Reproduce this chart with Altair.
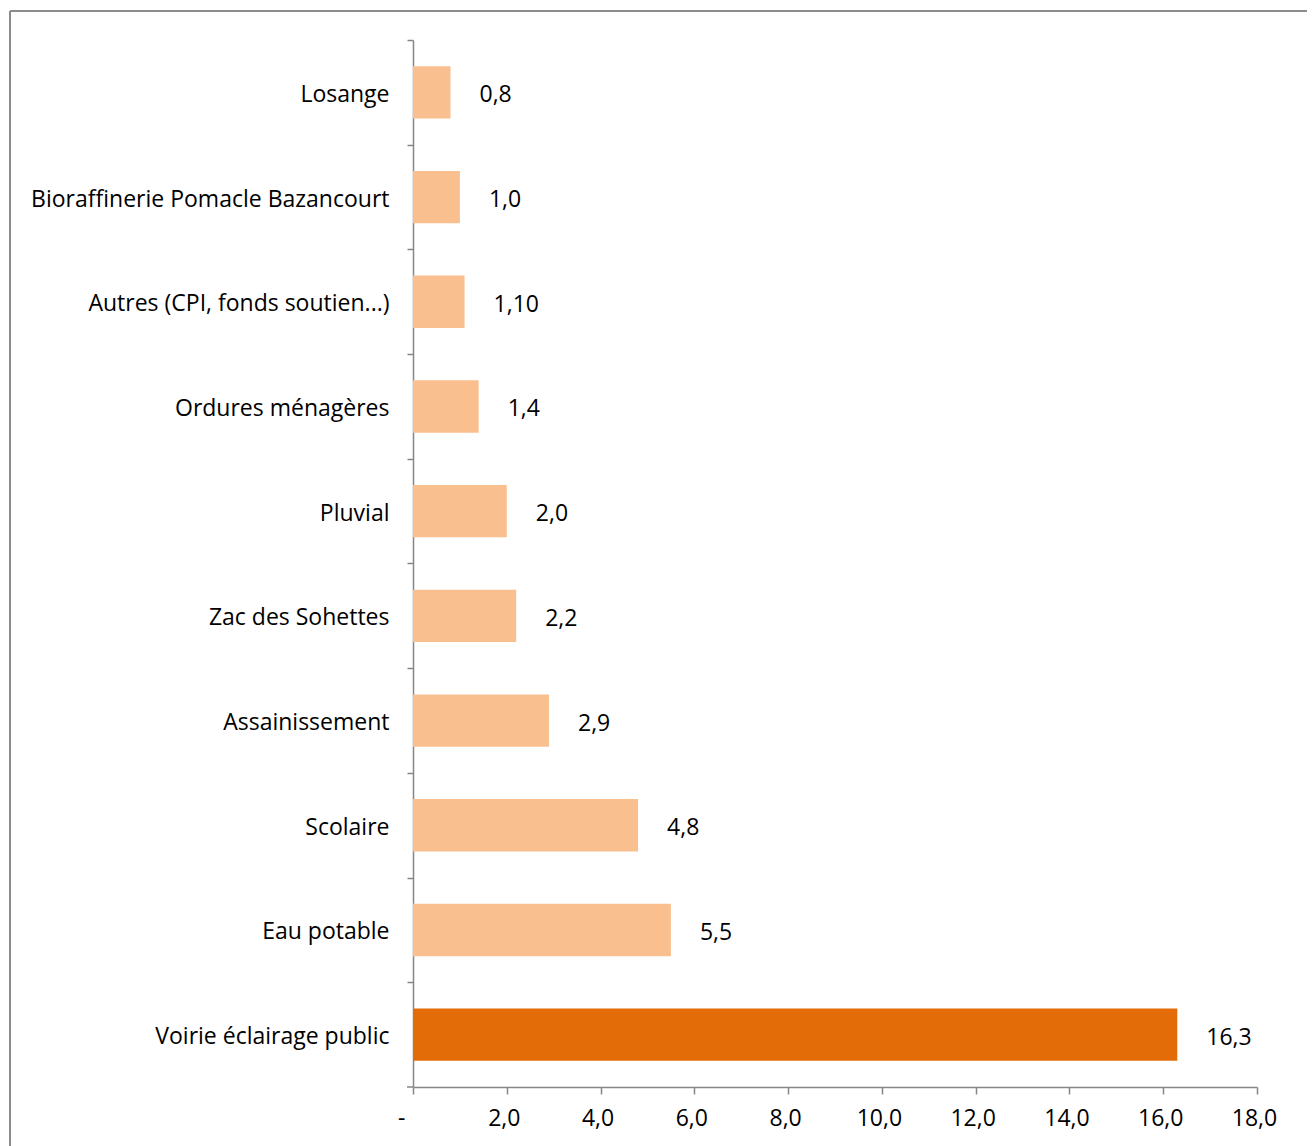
import altair as alt
import pandas as pd

categories = ["Losange", "Bioraffinerie Pomacle Bazancourt", "Autres (CPI, fonds soutien...)",
              "Ordures ménagères", "Pluvial", "Zac des Sohettes", "Assainissement",
              "Scolaire", "Eau potable", "Voirie éclairage public"]
values = [0.8, 1.0, 1.1, 1.4, 2.0, 2.2, 2.9, 4.8, 5.5, 16.3]
labels = ["0,8", "1,0", "1,10", "1,4", "2,0", "2,2", "2,9", "4,8", "5,5", "16,3"]
highlight = [False] * 9 + [True]
x_ticks = [0, 2, 4, 6, 8, 10, 12, 14, 16, 18]

df = pd.DataFrame({"cat": categories, "val": values, "lab": labels, "hi": highlight})

FONT = "Open Sans"
FS = 23
AXIS_COLOR = "#868686"
H = 1047
STEP = H / 10.0

y_enc = alt.Y("cat:N", sort=categories,
              scale=alt.Scale(paddingInner=0.5, paddingOuter=0.25),
              axis=alt.Axis(title=None, tickSize=6, tickColor=AXIS_COLOR,
                            tickOffset=-STEP / 2, labelOffset=STEP / 2 + 2,
                            domainColor=AXIS_COLOR, tickWidth=1.5, domainWidth=1.5,
                            labelFont=FONT, labelFontSize=FS, labelColor="#000000",
                            labelPadding=18, labelLimit=500))

x_enc = alt.X("val:Q", scale=alt.Scale(domain=[0, 18], nice=False),
              axis=alt.Axis(title=None, values=x_ticks, grid=False, tickSize=7,
                            tickColor=AXIS_COLOR, domainColor=AXIS_COLOR, tickWidth=1.5,
                            domainWidth=1.5, labelFont=FONT, labelFontSize=FS,
                            labelColor="#000000", labelPadding=13,
                            labelExpr="datum.value == 0 ? '-' : replace(format(datum.value, '.1f'), '.', ',')",
                            labelAlign={"condition": {"test": "datum.value == 0", "value": "right"}, "value": "center"},
                            labelOffset={"condition": {"test": "datum.value == 0", "value": -8}, "value": -3}))

bars = alt.Chart(df).mark_bar().encode(
    x=x_enc,
    y=y_enc,
    color=alt.Color("hi:N", scale=alt.Scale(domain=[False, True], range=["#FABF8F", "#E36C09"]), legend=None),
)

text = alt.Chart(df).mark_text(align="left", baseline="middle", dx=29, dy=3, font=FONT,
                               fontSize=FS, color="#000000").encode(
    x=alt.X("val:Q"), y=alt.Y("cat:N", sort=categories), text="lab:N")

frame_df = pd.DataFrame({"k": [0]})
frame_top = alt.Chart(frame_df).mark_rule(color="#8c8c8c", strokeWidth=2).encode(
    x=alt.value(-403), x2=alt.value(905), y=alt.value(-29))
frame_left = alt.Chart(frame_df).mark_rule(color="#8c8c8c", strokeWidth=2).encode(
    x=alt.value(-403), y=alt.value(-29), y2=alt.value(1110))
bottom_tick = alt.Chart(frame_df).mark_rule(color=AXIS_COLOR, strokeWidth=1.5).encode(
    x=alt.value(-6), x2=alt.value(0), y=alt.value(H))

chart = alt.layer(frame_top, frame_left, bottom_tick, bars, text).properties(
    width=844, height=H,
    autosize=alt.AutoSizeParams(type="none"),
    padding={"left": 405, "top": 32, "right": 50, "bottom": 60},
    background="white",
).configure_view(stroke=None)

chart.save("out.html", embed_options={"renderer": "svg", "actions": False})
